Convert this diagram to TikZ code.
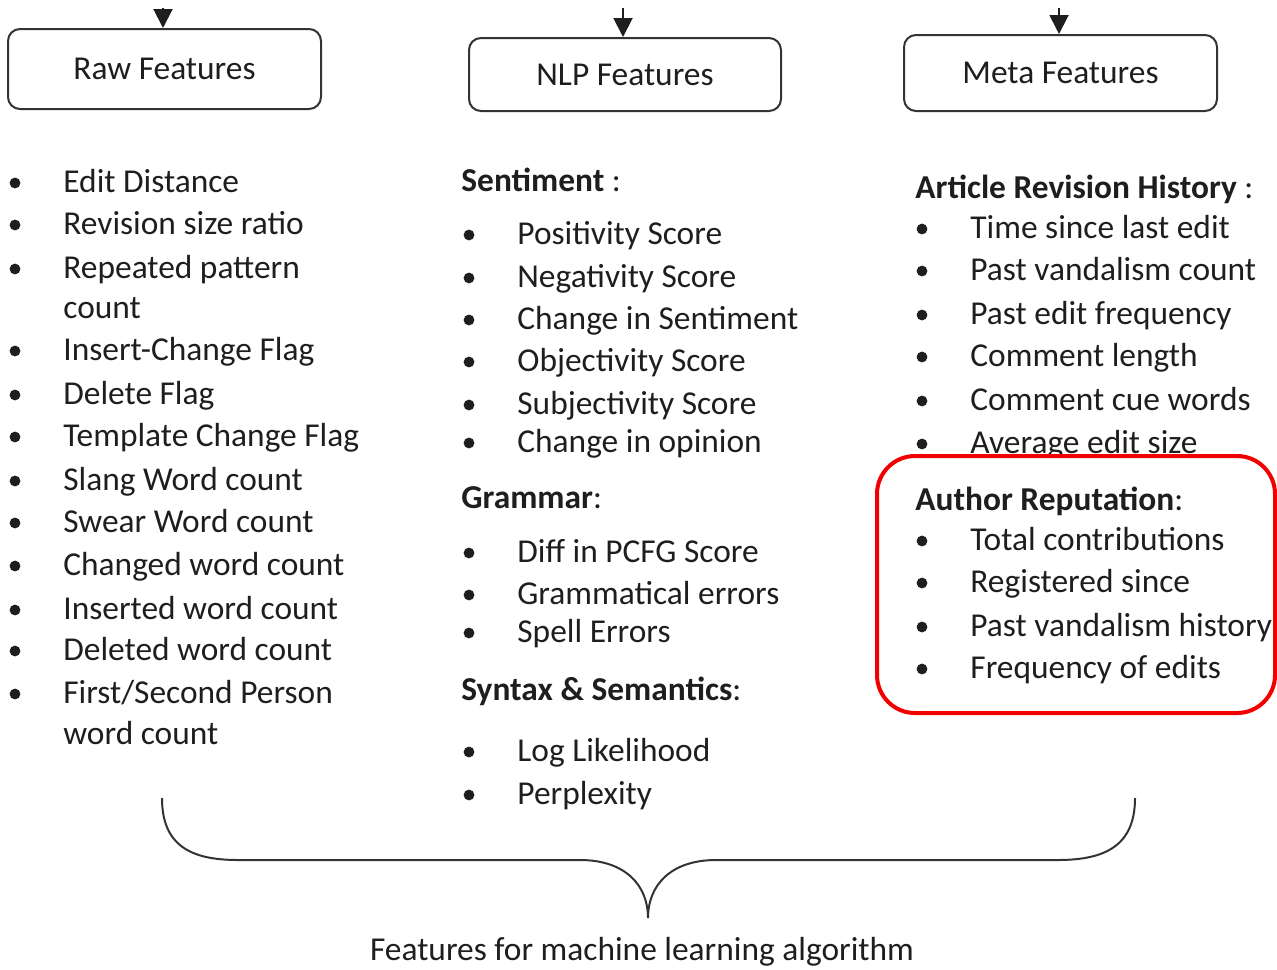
\documentclass[tikz,border=0pt]{standalone}
\usepackage{fontspec}
\setmainfont{Carlito}
\usetikzlibrary{arrows.meta}
\definecolor{ink}{HTML}{1E1E1E}
\definecolor{edge}{HTML}{333333}
\definecolor{hl}{HTML}{F20000}
\newcommand\fsz{\fontsize{16.7pt}{20pt}\selectfont}
% bulleted feature: name, x of text, baseline y, text
\newcommand\feat[4]{%
  \node[bul] (#1-b) at (#2-48,#3-9) {};
  \node[item] (#1) at (#2,#3) {#4};}
\begin{document}
\begin{tikzpicture}[x=0.5pt,y=-0.5pt,
  item/.style={anchor=base west, inner sep=0pt, font=\fsz, text=ink},
  bul/.style={circle, fill=ink, inner sep=0pt, minimum size=5.4pt},
  catbox/.style={draw=edge, line width=1pt, rounded corners=6pt, fill=white,
                 font=\fsz, text=ink, inner sep=0pt},
  arr/.style={draw=ink, line width=1pt, -{Triangle[width=9.5pt,length=9.5pt]}},
  brace/.style={draw=edge, line width=1pt},
  redbox/.style={draw=hl, line width=2pt, rounded corners=19pt, fill=white, inner sep=0pt}]
\useasboundingbox (0,0) rectangle (1277,969);

% category boxes
\node[catbox, minimum width=313*0.5pt, minimum height=80*0.5pt] (raw)  at (164.5,69)  {Raw Features};
\node[catbox, minimum width=312*0.5pt, minimum height=73*0.5pt] (nlp)  at (625,74.5)  {NLP Features};
\node[catbox, minimum width=313*0.5pt, minimum height=76*0.5pt] (meta) at (1060.5,73) {Meta Features};

\coordinate (rawin)  at (163,8);
\coordinate (nlpin)  at (623,8);
\coordinate (metain) at (1059,8);
\draw[arr] (rawin)  -- (rawin |- raw.north);
\draw[arr] (nlpin)  -- (nlpin |- nlp.north);
\draw[arr] (metain) -- (metain |- meta.north);

% raw features
\feat{r1}{63}{192}{Edit Distance}
\feat{r2}{63}{234}{Revision size ratio}
\feat{r3}{63}{278}{Repeated pattern}
\node[item] (r3x) at (63,318) {count};
\feat{r4}{63}{360}{Insert-Change Flag}
\feat{r5}{63}{404}{Delete Flag}
\feat{r6}{63}{446}{Template Change Flag}
\feat{r7}{63}{490}{Slang Word count}
\feat{r8}{63}{532}{Swear Word count}
\feat{r9}{63}{575}{Changed word count}
\feat{r10}{63}{619}{Inserted word count}
\feat{r11}{63}{660}{Deleted word count}
\feat{r12}{63}{703}{First/Second Person}
\node[item] (r12x) at (63,744) {word count};

% NLP features
\node[item] (sent) at (461,191) {\textbf{Sentiment} :};
\feat{n1}{517}{244}{Positivity Score}
\feat{n2}{517}{287}{Negativity Score}
\feat{n3}{517}{329}{Change in Sentiment}
\feat{n4}{517}{371}{Objectivity Score}
\feat{n5}{517}{414}{Subjectivity Score}
\feat{n6}{517}{452}{Change in opinion}
\node[item] (gram) at (461,508) {\textbf{Grammar}:};
\feat{n7}{517}{562}{Diff in PCFG Score}
\feat{n8}{517}{604}{Grammatical errors}
\feat{n9}{517}{642}{Spell Errors}
\node[item] (syn) at (461,700) {\textbf{Syntax \& Semantics}:};
\feat{n10}{517}{761}{Log Likelihood}
\feat{n11}{517}{804}{Perplexity}

% meta features
\node[item] (hist) at (915,198) {\textbf{Article Revision History} :};
\feat{m1}{970}{238}{Time since last edit}
\feat{m2}{970}{280}{Past vandalism count}
\feat{m3}{970}{324}{Past edit frequency}
\feat{m4}{970}{366}{Comment length}
\feat{m5}{970}{410}{Comment cue words}
\feat{m6}{970}{453}{Average edit size}

\node[redbox, minimum width=398*0.5pt, minimum height=257*0.5pt] (authbox) at (1076,584.5) {};
\node[item] (auth) at (915,510) {\textbf{Author Reputation}:};
\feat{a1}{970}{550}{Total contributions}
\feat{a2}{970}{592}{Registered since}
\feat{a3}{970}{636}{Past vandalism history}
\feat{a4}{970}{678}{Frequency of edits}

% brace gathering all features
\draw[brace] (162,798) .. controls (162,845) and (190,860) .. (238,860)
  -- (580,860) .. controls (625,860) and (648,885) .. (648,918)
  .. controls (648,885) and (671,860) .. (716,860)
  -- (1058,860) .. controls (1106,860) and (1135,845) .. (1135,798);
\node[anchor=base, inner sep=0pt, font=\fsz, text=ink] (cap) at (642,960)
  {Features for machine learning algorithm};
\end{tikzpicture}
\end{document}
